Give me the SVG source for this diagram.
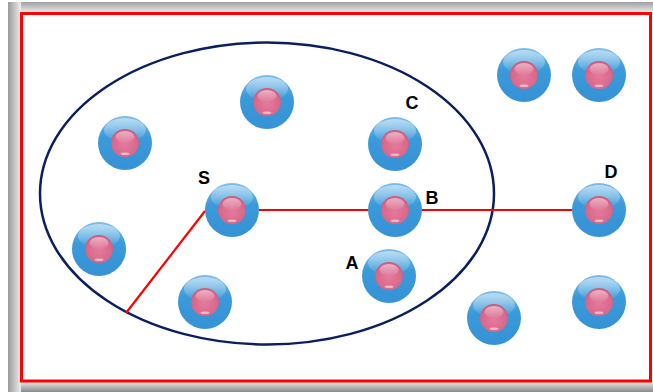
<svg xmlns="http://www.w3.org/2000/svg" xmlns:xlink="http://www.w3.org/1999/xlink" width="653" height="392" viewBox="0 0 653 392">
<defs>
<style>
.lbl{font-family:"Liberation Sans",Arial,sans-serif;font-weight:bold;font-size:18px;fill:#000}
.red{stroke:#ff0000;stroke-width:2.2;fill:none}
</style>
<linearGradient id="gl" x1="0" x2="1" y1="0" y2="0"><stop offset="0" stop-color="#9a9a9a"/><stop offset="1" stop-color="#eeeeee"/></linearGradient>
<linearGradient id="gt" x1="0" x2="0" y1="0" y2="1"><stop offset="0" stop-color="#a0a0a0"/><stop offset="1" stop-color="#f0f0f0"/></linearGradient>
<linearGradient id="gb" x1="0" x2="0" y1="0" y2="1"><stop offset="0" stop-color="#f0f0f0"/><stop offset="1" stop-color="#8a8a8a"/></linearGradient>
<linearGradient id="blue" x1="0" x2="0" y1="0" y2="1"><stop offset="0" stop-color="#7dbde9"/><stop offset="0.4" stop-color="#3b9ad9"/><stop offset="1" stop-color="#3592d6"/></linearGradient>
<linearGradient id="blueHi" x1="0" x2="0" y1="0" y2="1"><stop offset="0" stop-color="#c8e4f6" stop-opacity="0.8"/><stop offset="1" stop-color="#c8e4f6" stop-opacity="0"/></linearGradient>
<radialGradient id="pink" cx="0.5" cy="0.55" r="0.55"><stop offset="0" stop-color="#e47a9c"/><stop offset="0.8" stop-color="#d9688b"/><stop offset="1" stop-color="#c9587c"/></radialGradient>
<linearGradient id="pinkHi" x1="0" x2="0" y1="0" y2="1"><stop offset="0" stop-color="#ffffff" stop-opacity="0.5"/><stop offset="1" stop-color="#ffffff" stop-opacity="0.03"/></linearGradient>
<g id="ball">
<circle r="27" fill="url(#blue)"/>
<ellipse cy="-13" rx="21" ry="12" fill="url(#blueHi)"/>
<circle r="14" fill="url(#pink)"/>
<ellipse cy="-6" rx="9.5" ry="6" fill="url(#pinkHi)"/>
<ellipse cy="10.8" rx="4.5" ry="1.3" fill="#ffffff" opacity="0.5"/>
</g>
</defs>
<rect x="0" y="0" width="653" height="392" fill="#ffffff"/>
<g id="frame">
<rect x="8" y="2" width="645" height="11" fill="url(#gt)"/>
<rect x="8" y="381" width="645" height="11" fill="url(#gb)"/>
<rect x="8" y="2" width="13" height="390" fill="url(#gl)"/>
<rect x="21.5" y="13.5" width="629" height="367.5" fill="#ffffff" stroke="#ff0000" stroke-width="3"/>
</g>
<ellipse id="region" cx="267" cy="193.5" rx="227" ry="151" fill="none" stroke="#0b1f5e" stroke-width="2.5"/>
<g id="connectors">
<polyline class="red" points="126,313 205,211"/>
<polyline class="red" points="259,210 572,210"/>
</g>
<g id="n1"><use xlink:href="#ball" x="267" y="102"/></g>
<g id="n2"><use xlink:href="#ball" x="125" y="143"/></g>
<g id="nC"><use xlink:href="#ball" x="395" y="144"/><text class="lbl" x="412" y="109" text-anchor="middle">C</text></g>
<g id="nS"><use xlink:href="#ball" x="232" y="210"/><text class="lbl" x="204" y="184" text-anchor="middle">S</text></g>
<g id="nB"><use xlink:href="#ball" x="395" y="210"/><text class="lbl" x="432" y="204" text-anchor="middle">B</text></g>
<g id="n3"><use xlink:href="#ball" x="99" y="249"/></g>
<g id="n4"><use xlink:href="#ball" x="205" y="302"/></g>
<g id="nA"><use xlink:href="#ball" x="389" y="276"/><text class="lbl" x="352" y="269" text-anchor="middle">A</text></g>
<g id="n5"><use xlink:href="#ball" x="524" y="75"/></g>
<g id="n6"><use xlink:href="#ball" x="599" y="75"/></g>
<g id="nD"><use xlink:href="#ball" x="599" y="210"/><text class="lbl" x="611" y="178" text-anchor="middle">D</text></g>
<g id="n7"><use xlink:href="#ball" x="494" y="318"/></g>
<g id="n8"><use xlink:href="#ball" x="599" y="302"/></g>
</svg>
